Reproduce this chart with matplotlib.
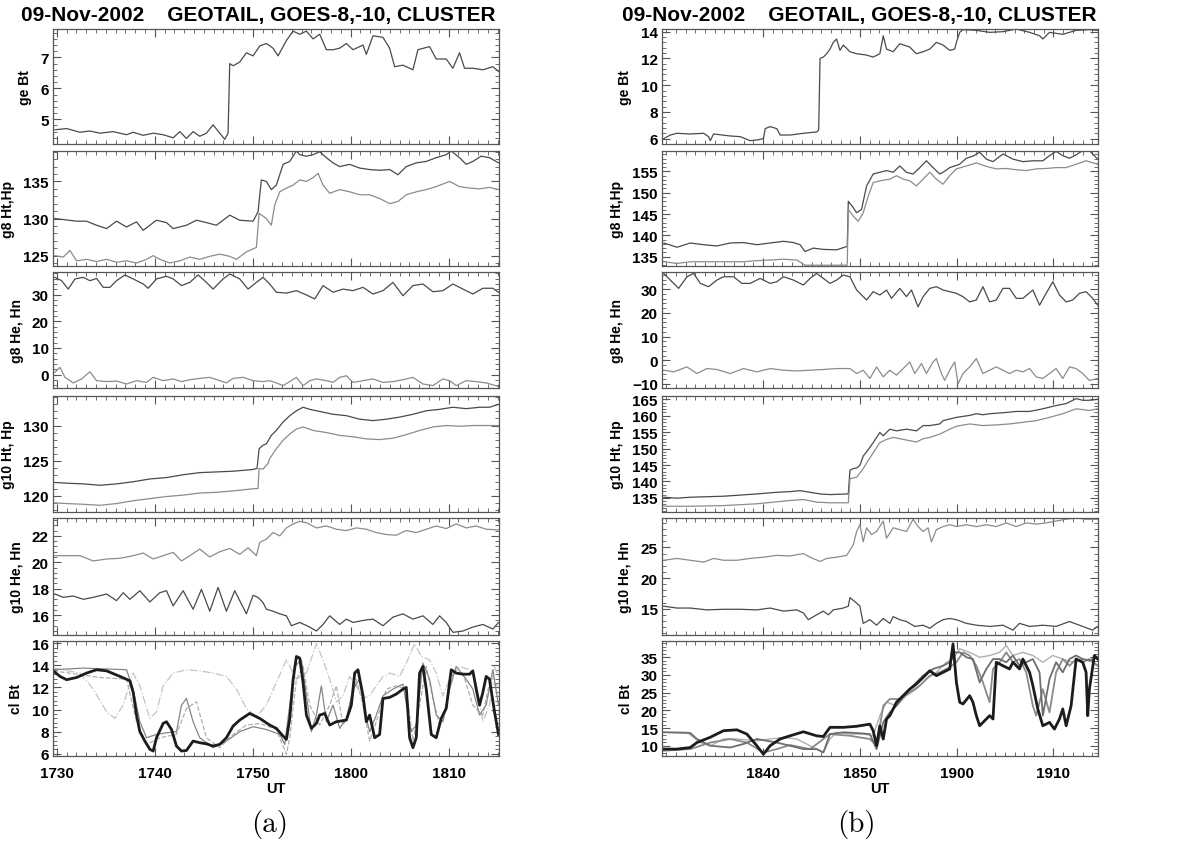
import numpy as np
import matplotlib
matplotlib.use("Agg")
import matplotlib.pyplot as plt
from matplotlib.ticker import MultipleLocator, FixedLocator, AutoMinorLocator

plt.rcParams["font.family"] = ["Liberation Sans", "DejaVu Sans"]
plt.rcParams["font.weight"] = "bold"

# ---------------------------------------------------------------------------
# data: (minutes after 17:30 UT for column a, after 18:30 UT for column b, value)
# ---------------------------------------------------------------------------

A_GE_BT = [(-0.2, 4.66), (1.0, 4.7), (2.35, 4.58), (3.37, 4.62), (4.39, 4.55), (5.75, 4.6),
           (7.11, 4.5), (7.79, 4.58), (8.81, 4.48), (9.83, 4.55), (10.85, 4.5), (11.87, 4.4),
           (12.55, 4.6), (13.23, 4.38), (13.91, 4.6), (14.59, 4.45), (15.27, 4.55), (15.95, 4.82),
           (16.63, 4.55), (17.14, 4.35), (17.48, 4.55), (17.65, 6.8), (17.99, 6.73), (18.67, 6.85),
           (19.35, 7.15), (20.03, 7.05), (20.71, 7.37), (21.39, 7.45), (22.07, 7.3), (22.59, 7.05),
           (23.44, 7.55), (24.12, 7.85), (24.8, 7.75), (25.48, 7.85), (26.16, 7.6), (26.84, 7.75),
           (27.52, 7.25), (28.2, 7.25), (28.88, 7.3), (29.56, 7.45), (30.24, 7.25), (31.26, 7.4),
           (31.6, 7.1), (32.28, 7.7), (33.3, 7.65), (33.98, 7.3), (34.49, 6.7), (35.34, 6.75),
           (36.36, 6.6), (36.87, 7.25), (38.06, 7.35), (38.74, 6.95), (39.76, 6.95), (40.44, 6.65),
           (41.12, 7.15), (41.63, 6.65), (42.48, 6.65), (43.5, 6.6), (44.52, 6.7), (45.1, 6.55)]

A_G8_HT = [(-0.2, 130.0), (2.01, 129.64), (3.03, 129.64), (4.05, 129.09), (5.07, 128.64), (6.09, 129.64),
           (7.11, 128.86), (8.13, 129.55), (8.81, 128.41), (10.17, 129.77), (11.19, 129.45), (11.87, 128.64),
           (13.23, 129.09), (14.25, 129.77), (15.27, 129.45), (16.29, 129.09), (17.65, 130.45), (18.67, 129.77),
           (20.03, 129.64), (20.54, 130.9), (20.88, 135.2), (21.39, 135.0), (21.9, 133.9), (22.41, 134.5),
           (23.1, 137.3), (23.78, 137.7), (24.46, 139.1), (24.8, 138.6), (25.48, 138.4), (26.16, 138.6),
           (26.84, 139.0), (27.52, 138.2), (28.2, 137.5), (28.88, 137.0), (29.9, 137.3), (30.92, 136.8),
           (31.94, 136.6), (32.96, 136.5), (33.98, 136.6), (34.83, 135.9), (35.68, 137.0), (36.7, 137.5),
           (37.72, 137.7), (38.74, 138.2), (39.76, 138.6), (40.27, 139.1), (41.12, 138.2), (41.8, 137.3),
           (42.48, 137.7), (43.33, 138.4), (44.18, 138.2), (45.1, 137.5)]

A_G8_HP = [(-0.2, 125.0), (0.65, 124.8), (1.33, 125.7), (2.01, 124.3), (3.03, 124.5), (4.05, 124.2),
           (5.07, 124.5), (6.09, 124.1), (7.11, 124.3), (8.13, 124.0), (9.15, 124.5), (9.83, 125.0),
           (10.51, 124.5), (11.53, 124.0), (12.55, 124.3), (13.57, 124.8), (14.59, 124.5), (15.61, 124.9),
           (16.63, 125.2), (17.65, 124.9), (18.33, 124.5), (19.35, 125.5), (20.37, 126.1), (20.65, 130.7),
           (21.39, 130.0), (21.9, 129.1), (22.24, 131.8), (22.76, 133.6), (23.44, 134.1), (24.12, 134.5),
           (24.8, 135.2), (25.48, 135.0), (26.16, 135.5), (26.67, 136.1), (27.18, 134.5), (27.86, 133.4),
           (28.88, 133.9), (29.9, 133.6), (30.92, 133.2), (31.94, 133.2), (32.96, 132.7), (33.98, 132.0),
           (34.83, 132.3), (35.68, 133.2), (36.7, 133.6), (37.72, 133.9), (38.74, 134.3), (40.1, 135.0),
           (41.12, 134.3), (42.14, 134.1), (43.16, 134.0), (44.18, 134.2), (45.1, 133.9)]

A_G8_HE = [(-0.2, 36.5), (0.48, 35.25), (1.16, 32.1), (1.84, 35.9), (2.69, 36.5), (3.37, 35.25),
           (4.05, 36.1), (4.73, 32.75), (5.41, 32.75), (6.09, 35.25), (6.94, 37.4), (7.79, 35.9),
           (8.81, 34.0), (9.32, 32.4), (10.17, 35.9), (11.19, 36.9), (11.87, 35.9), (12.72, 33.4),
           (13.57, 34.6), (14.42, 37.4), (15.27, 34.6), (15.95, 32.1), (16.97, 35.9), (17.65, 37.75),
           (18.67, 35.9), (19.52, 32.1), (20.37, 34.6), (21.05, 36.5), (21.73, 34.0), (22.41, 30.9),
           (23.44, 30.6), (24.46, 31.5), (25.48, 29.9), (26.33, 28.4), (27.18, 33.4), (28.2, 30.9),
           (29.22, 32.1), (30.24, 31.5), (31.26, 32.75), (32.28, 30.25), (33.3, 31.5), (34.32, 34.6),
           (35.34, 29.6), (36.36, 33.4), (37.38, 34.0), (38.4, 31.1), (39.42, 31.5), (40.44, 34.0),
           (41.46, 32.1), (42.48, 30.25), (43.5, 32.4), (44.52, 32.4), (45.1, 30.9)]

A_G8_HN = [(-0.2, 0.9), (0.31, 2.75), (0.82, -1.0), (1.67, -3.1), (2.52, -1.6), (3.37, 1.1),
           (4.05, -2.25), (5.07, -2.6), (6.09, -2.4), (7.11, -3.5), (8.13, -2.25), (9.15, -2.9),
           (9.83, -1.0), (10.85, -2.25), (11.87, -1.6), (12.72, -2.6), (13.57, -1.9), (14.59, -1.4),
           (15.61, -1.0), (16.63, -2.25), (17.31, -3.1), (17.99, -1.4), (19.01, -1.0), (20.03, -2.25),
           (21.05, -2.6), (21.73, -2.25), (22.41, -3.1), (23.1, -4.1), (23.78, -2.6), (24.46, -1.0),
           (25.14, -4.1), (25.82, -2.25), (26.5, -1.6), (27.52, -2.25), (28.2, -2.9), (28.88, -1.0),
           (29.56, -0.4), (30.24, -2.9), (31.26, -2.25), (32.28, -1.6), (33.3, -2.9), (34.32, -2.6),
           (35.34, -1.9), (36.36, -1.0), (37.38, -3.5), (38.4, -4.1), (39.42, -1.6), (40.1, -2.25),
           (40.78, -4.1), (41.8, -2.25), (42.82, -2.6), (43.84, -3.1), (45.1, -4.4)]

A_G10_HT = [(-0.2, 121.9), (0.99, 121.8), (2.69, 121.7), (4.39, 121.5), (6.09, 121.7), (7.79, 122.0),
            (9.49, 122.4), (11.19, 122.6), (12.89, 123.0), (14.59, 123.3), (16.29, 123.4), (17.99, 123.5),
            (20.03, 123.75), (20.44, 123.9), (20.65, 126.7), (21.05, 127.2), (21.39, 127.4), (21.9, 128.6),
            (22.41, 129.3), (23.1, 130.5), (23.78, 131.4), (24.46, 132.1), (25.14, 132.6), (25.82, 132.3),
            (26.84, 132.0), (28.2, 131.6), (29.56, 131.4), (30.92, 130.9), (32.28, 130.7), (33.64, 130.9),
            (35.0, 131.2), (36.36, 131.6), (37.72, 132.1), (39.08, 132.3), (40.44, 132.6), (41.8, 132.4),
            (43.16, 132.6), (44.18, 132.6), (45.1, 133.0)]

A_G10_HP = [(-0.2, 119.0), (0.99, 118.9), (2.69, 118.8), (4.39, 118.65), (6.09, 118.9), (7.79, 119.3),
            (9.49, 119.6), (11.19, 119.9), (12.89, 120.1), (14.59, 120.4), (16.29, 120.5), (17.99, 120.7),
            (20.03, 121.0), (20.54, 121.05), (20.65, 123.9), (21.05, 123.8), (21.56, 124.6), (21.73, 125.3),
            (22.41, 126.7), (23.1, 127.9), (23.78, 128.8), (24.46, 129.5), (25.14, 129.8), (26.16, 129.3),
            (27.52, 129.0), (28.88, 128.6), (30.24, 128.4), (31.6, 128.1), (32.96, 128.0), (34.32, 128.2),
            (35.68, 128.7), (37.04, 129.3), (38.4, 129.8), (39.76, 130.0), (41.12, 129.9), (42.48, 130.0),
            (43.84, 130.0), (45.1, 130.0)]

A_G10_HE = [(-0.2, 20.5), (2.35, 20.5), (3.71, 20.1), (5.07, 20.25), (6.43, 20.3), (7.79, 20.5),
            (8.81, 20.7), (9.83, 20.25), (10.85, 20.5), (11.87, 20.75), (12.72, 20.1), (13.57, 20.5),
            (14.59, 21.0), (15.61, 20.4), (16.63, 20.8), (17.65, 21.05), (18.67, 20.6), (19.52, 21.1),
            (20.37, 20.5), (20.71, 21.5), (21.39, 21.75), (22.07, 22.25), (22.76, 22.0), (23.44, 22.6),
            (24.12, 22.9), (24.8, 23.1), (25.48, 23.0), (26.5, 22.6), (27.52, 22.75), (28.54, 22.5),
            (29.56, 22.4), (30.58, 22.6), (31.6, 22.5), (32.62, 22.25), (33.64, 22.1), (34.66, 22.05),
            (35.68, 22.4), (36.7, 22.25), (37.72, 22.5), (38.74, 22.75), (39.76, 22.55), (40.78, 22.9),
            (41.8, 22.6), (42.82, 22.75), (43.84, 22.5), (45.1, 22.45)]

A_G10_HN = [(-0.2, 17.6), (0.65, 17.35), (1.67, 17.45), (2.69, 17.2), (3.71, 17.35), (5.07, 17.6),
            (6.09, 17.1), (6.77, 17.7), (7.45, 17.2), (8.47, 17.85), (9.49, 17.0), (10.51, 17.7),
            (11.19, 17.85), (11.87, 16.7), (12.89, 17.85), (13.91, 16.45), (14.76, 17.95), (15.61, 16.3),
            (16.46, 18.1), (17.31, 16.3), (18.16, 17.85), (19.35, 16.1), (20.03, 17.5), (20.54, 17.35),
            (21.05, 16.95), (21.39, 16.45), (22.07, 16.3), (22.76, 16.1), (23.44, 15.95), (23.95, 15.2),
            (24.8, 15.45), (25.82, 15.1), (26.5, 14.8), (27.18, 15.3), (27.86, 15.95), (28.88, 15.3),
            (29.56, 15.7), (30.24, 15.45), (31.26, 15.6), (32.28, 15.7), (33.3, 15.2), (34.32, 15.85),
            (35.34, 16.1), (36.36, 15.7), (37.38, 15.95), (38.4, 15.3), (39.08, 15.95), (39.76, 15.45),
            (40.44, 14.7), (41.46, 14.8), (42.48, 15.1), (43.5, 15.3), (44.52, 14.95), (45.1, 15.45)]

A_CL_C1 = [(-0.37, 13.5), (0.31, 13.0), (0.99, 12.7), (2.01, 12.9), (3.03, 13.3), (4.05, 13.6),
           (5.07, 13.5), (6.43, 13.0), (7.45, 12.6), (7.79, 11.55), (8.13, 9.5), (8.47, 8.0),
           (8.98, 7.15), (9.49, 6.4), (9.83, 6.25), (10.17, 7.45), (10.85, 8.75), (11.19, 8.9),
           (11.7, 8.2), (12.21, 6.7), (12.72, 6.25), (13.23, 6.3), (13.91, 7.15), (14.59, 7.0),
           (15.27, 6.9), (15.95, 6.7), (16.63, 6.85), (17.31, 7.45), (17.99, 8.5), (18.67, 9.05),
           (19.69, 9.65), (20.71, 9.2), (21.73, 8.6), (22.41, 8.3), (23.1, 7.6), (23.44, 7.3),
           (23.78, 9.2), (24.12, 12.7), (24.46, 14.8), (24.8, 14.65), (25.14, 12.45), (25.48, 9.5),
           (25.99, 8.3), (26.5, 8.75), (26.84, 9.5), (27.35, 9.65), (27.86, 8.6), (28.54, 8.9),
           (29.56, 9.05), (30.07, 10.4), (30.41, 13.3), (30.75, 13.6), (31.26, 11.25), (31.6, 8.9),
           (31.94, 9.5), (32.45, 7.45), (32.96, 7.75), (33.3, 11.0), (33.98, 11.1), (34.66, 11.4),
           (35.34, 11.85), (35.68, 12.0), (36.02, 7.45), (36.36, 6.55), (36.7, 7.45), (37.04, 13.3),
           (37.38, 13.9), (37.72, 11.85), (38.23, 7.75), (38.74, 7.45), (39.25, 9.2), (39.76, 10.1),
           (40.27, 13.6), (40.78, 13.3), (41.46, 13.2), (42.14, 13.2), (42.48, 13.5), (42.82, 11.85),
           (43.16, 10.4), (43.5, 11.55), (43.84, 13.0), (44.18, 12.75), (44.69, 9.8), (45.1, 7.75)]

A_CL_C2 = [(-0.37, 13.6), (2.69, 13.75), (7.11, 13.6), (7.79, 11.85), (8.47, 8.9), (9.15, 7.45),
           (10.17, 7.75), (11.19, 7.9), (12.21, 8.0), (12.72, 10.4), (13.23, 11.0), (13.91, 8.9),
           (14.59, 7.45), (15.95, 6.55), (17.31, 7.15), (18.67, 8.0), (20.03, 8.45), (21.39, 8.2),
           (22.76, 7.75), (23.27, 6.85), (23.78, 10.4), (24.29, 13.9), (24.97, 14.5), (25.48, 11.25),
           (25.99, 8.0), (26.5, 9.5), (27.01, 12.15), (27.52, 8.9), (28.2, 10.4), (28.88, 8.3),
           (29.56, 9.2), (30.24, 11.85), (30.92, 12.75), (31.43, 9.8), (31.94, 8.0), (32.62, 9.5),
           (33.3, 11.25), (34.32, 11.85), (35.34, 12.3), (36.19, 8.0), (36.7, 8.6), (37.38, 14.2),
           (38.06, 12.75), (38.74, 9.5), (39.42, 8.9), (40.1, 11.85), (40.78, 13.9), (41.8, 12.75),
           (42.48, 11.85), (43.16, 9.5), (43.84, 10.4), (44.52, 13.6), (45.1, 10.4)]

A_CL_C3 = [(-0.37, 13.75), (2.35, 13.3), (3.71, 11.85), (5.07, 9.8), (5.92, 9.2), (6.77, 10.4),
           (7.79, 13.3), (8.47, 12.15), (9.49, 9.2), (10.17, 9.8), (10.85, 12.15), (11.87, 13.3),
           (13.23, 13.6), (14.59, 13.5), (15.95, 13.3), (17.31, 13.0), (18.33, 11.85), (19.35, 10.1),
           (20.37, 9.35), (21.39, 10.4), (22.41, 12.45), (23.44, 14.5), (24.46, 12.75), (25.48, 13.3),
           (26.5, 15.95), (27.18, 14.5), (27.86, 12.75), (28.54, 10.7), (29.22, 11.25), (29.9, 13.0),
           (30.58, 12.15), (31.26, 11.0), (31.94, 11.25), (32.62, 12.15), (33.3, 13.0), (33.98, 13.3),
           (35.0, 13.0), (35.68, 14.2), (36.53, 15.95), (37.21, 14.8), (38.06, 14.5), (38.74, 13.3),
           (39.42, 11.25), (40.1, 12.75), (41.12, 13.9), (42.14, 13.6), (42.82, 12.45), (43.5, 8.9),
           (44.18, 10.4), (44.69, 13.9), (45.1, 13.0)]

A_CL_C4 = [(-0.37, 13.5), (4.39, 12.9), (7.11, 12.75), (8.13, 8.9), (9.15, 6.85), (10.51, 7.45),
           (12.21, 7.75), (13.23, 10.1), (14.25, 10.7), (15.27, 7.45), (16.63, 6.55), (17.99, 7.75),
           (19.35, 8.6), (20.71, 8.75), (22.41, 8.2), (23.44, 5.95), (23.78, 7.45), (24.46, 12.75),
           (25.14, 13.9), (25.82, 10.4), (26.84, 8.6), (27.86, 10.4), (28.54, 12.15), (29.22, 8.6),
           (29.9, 9.8), (30.58, 12.75), (31.26, 10.4), (31.94, 7.15), (32.62, 8.9), (33.64, 11.85),
           (34.66, 12.15), (35.68, 11.85), (36.36, 7.15), (37.04, 10.4), (37.72, 13.9), (38.4, 11.0),
           (39.08, 8.6), (39.76, 10.4), (40.44, 13.3), (41.46, 13.3), (42.48, 10.4), (43.5, 9.5),
           (44.18, 12.45), (45.1, 12.15)]

B_GE_BT = [(-0.27, 6.0), (0.41, 6.27), (1.1, 6.4), (2.47, 6.35), (3.85, 6.4), (4.36, 6.15),
           (4.54, 5.85), (4.88, 6.35), (6.6, 6.2), (7.63, 6.15), (8.66, 5.85), (9.35, 5.9),
           (10.03, 6.0), (10.21, 6.75), (10.72, 6.9), (11.41, 6.75), (11.75, 6.27), (12.78, 6.27),
           (14.16, 6.4), (15.53, 6.5), (15.74, 6.65), (15.88, 12.0), (16.22, 12.1), (16.56, 12.35),
           (16.91, 12.7), (17.25, 13.2), (17.59, 13.45), (17.94, 12.6), (18.28, 13.0), (18.97, 12.5),
           (19.66, 12.35), (20.69, 12.25), (21.37, 12.1), (22.06, 12.35), (22.41, 13.7), (22.75, 12.7),
           (23.44, 12.5), (24.12, 13.1), (25.15, 12.85), (25.84, 12.35), (26.53, 12.5), (27.22, 12.7),
           (27.9, 13.2), (28.59, 13.0), (29.28, 12.6), (29.79, 12.7), (29.97, 13.2), (30.31, 13.95),
           (30.65, 14.15), (32.03, 14.1), (33.4, 13.95), (34.78, 14.0), (36.15, 14.2), (37.53, 13.95),
           (38.56, 13.7), (38.9, 13.45), (39.59, 13.95), (40.96, 13.8), (42.34, 14.1), (43.71, 14.15),
           (44.57, 14.1)]

B_G8_HT = [(-0.27, 138.2), (1.1, 137.2), (2.47, 138.2), (3.85, 137.8), (5.22, 137.5), (6.6, 138.2),
           (7.97, 138.3), (9.35, 137.8), (10.72, 138.2), (12.1, 138.6), (13.13, 138.3), (13.81, 137.8),
           (14.33, 136.2), (15.19, 137.0), (16.22, 136.7), (17.59, 136.6), (18.69, 137.4), (18.8, 148.0),
           (19.31, 146.5), (19.66, 145.3), (20.17, 146.1), (20.69, 151.6), (21.37, 154.4), (22.06, 154.8),
           (22.75, 155.2), (23.44, 154.8), (24.12, 156.3), (24.81, 154.8), (25.5, 154.4), (26.19, 155.9),
           (26.87, 157.5), (27.56, 155.9), (28.25, 154.4), (28.59, 154.8), (29.28, 155.9), (30.31, 156.7),
           (31.0, 158.1), (31.68, 158.6), (32.37, 159.5), (33.06, 157.9), (33.75, 157.3), (34.78, 159.1),
           (35.81, 157.9), (36.84, 157.3), (37.87, 157.5), (38.9, 157.5), (39.59, 158.7), (40.27, 159.7),
           (40.96, 158.7), (41.65, 158.1), (42.34, 158.9), (43.02, 159.9), (43.71, 159.9), (44.57, 157.9)]

B_G8_HP = [(-0.27, 133.8), (1.1, 133.4), (2.47, 133.8), (5.22, 133.8), (7.97, 133.8), (9.35, 134.05),
           (10.72, 134.2), (12.1, 134.4), (13.47, 134.2), (14.33, 133.0), (16.22, 133.0), (18.69, 133.0),
           (18.8, 146.1), (19.31, 144.5), (19.83, 143.3), (20.34, 145.3), (20.86, 149.2), (21.37, 152.4),
           (22.06, 152.8), (23.09, 153.2), (23.78, 154.0), (24.47, 153.2), (25.15, 152.8), (25.84, 151.6),
           (26.53, 153.2), (27.22, 154.8), (27.9, 153.2), (28.59, 152.0), (29.28, 154.0), (29.97, 155.6),
           (31.0, 156.3), (32.03, 157.0), (33.06, 156.2), (34.09, 155.6), (35.12, 155.7), (36.15, 155.4),
           (37.18, 155.2), (38.21, 155.6), (39.24, 155.7), (40.27, 155.9), (41.31, 155.9), (42.34, 156.7),
           (43.37, 157.5), (44.57, 156.7)]

B_G8_HE = [(-0.27, 36.6), (0.41, 33.8), (1.27, 30.3), (2.13, 35.2), (2.82, 36.6), (3.51, 32.4),
           (4.36, 31.0), (5.22, 33.8), (5.91, 35.2), (6.94, 35.2), (7.8, 32.4), (8.66, 32.4),
           (9.69, 34.5), (10.72, 32.4), (11.41, 33.1), (12.1, 35.2), (13.13, 33.8), (14.16, 31.7),
           (14.85, 34.5), (15.53, 36.6), (16.22, 34.5), (16.91, 32.4), (17.59, 33.8), (18.28, 35.9),
           (18.97, 35.2), (19.66, 29.6), (20.17, 27.5), (20.69, 25.4), (21.37, 28.9), (22.06, 27.5),
           (22.75, 29.6), (23.26, 26.1), (24.12, 30.3), (24.81, 26.8), (25.33, 29.6), (26.01, 22.5),
           (26.53, 26.8), (27.22, 30.3), (27.9, 31.0), (28.59, 29.6), (29.28, 28.9), (29.97, 28.2),
           (30.65, 26.8), (31.34, 24.6), (32.03, 25.4), (32.71, 31.0), (33.4, 24.6), (34.09, 25.4),
           (34.78, 30.3), (35.46, 30.3), (36.15, 26.1), (36.84, 26.1), (37.87, 29.6), (38.56, 23.2),
           (39.24, 28.2), (39.93, 33.1), (40.62, 27.5), (41.31, 24.6), (41.99, 25.4), (42.68, 28.2),
           (43.37, 28.9), (44.05, 26.1), (44.57, 23.2)]

B_G8_HN = [(-0.27, -4.2), (0.76, -4.9), (2.13, -2.8), (3.16, -5.6), (4.19, -3.5), (5.22, -3.9),
           (6.6, -5.6), (7.97, -3.5), (9.35, -4.9), (10.72, -3.5), (12.1, -4.2), (13.47, -4.5),
           (14.85, -4.2), (16.22, -3.9), (17.59, -3.5), (18.97, -3.5), (19.66, -5.6), (20.34, -4.2),
           (21.03, -7.7), (21.72, -2.8), (22.41, -7.0), (23.09, -4.2), (23.78, -6.3), (24.47, -3.5),
           (25.15, -0.7), (25.67, -5.6), (26.36, -1.4), (26.87, -5.6), (27.56, -0.7), (27.9, 0.7),
           (28.42, -5.6), (28.76, -8.5), (29.28, -4.2), (29.79, -0.7), (30.14, -9.9), (30.65, -5.6),
           (31.34, -2.8), (32.03, 0.7), (32.71, -5.6), (33.4, -4.2), (34.09, -2.8), (34.78, -4.2),
           (35.46, -5.6), (36.15, -4.2), (36.84, -4.9), (37.53, -3.5), (38.21, -7.0), (38.9, -7.7),
           (39.59, -5.6), (40.27, -3.5), (40.96, -7.7), (41.65, -2.8), (42.34, -3.5), (43.02, -5.6),
           (43.71, -8.5), (44.57, -7.7)]

B_G10_HT = [(-0.27, 135.2), (1.1, 134.9), (2.47, 135.2), (5.91, 135.5), (9.35, 136.2), (11.41, 136.7),
            (12.78, 136.9), (13.81, 137.2), (14.85, 136.7), (15.88, 136.2), (16.91, 136.0), (18.8, 136.2),
            (18.97, 143.4), (19.31, 143.9), (19.66, 144.1), (20.0, 144.9), (20.34, 147.7), (20.86, 149.7),
            (21.37, 151.8), (22.06, 154.9), (22.41, 153.9), (23.09, 155.9), (23.78, 155.4), (24.81, 155.9),
            (25.84, 155.4), (26.53, 157.0), (27.22, 157.0), (28.25, 157.5), (28.59, 158.5), (29.28, 159.0),
            (29.97, 159.5), (31.34, 160.1), (32.03, 160.6), (32.71, 160.3), (33.4, 160.6), (34.78, 160.9),
            (36.15, 161.3), (37.53, 161.3), (38.9, 162.1), (40.27, 163.1), (41.31, 163.7), (42.34, 165.2),
            (43.02, 164.7), (43.71, 164.7), (44.57, 165.0)]

B_G10_HP = [(-0.27, 132.45), (2.47, 132.45), (5.91, 132.65), (9.35, 133.2), (12.78, 134.2), (14.16, 134.5),
            (15.53, 133.7), (16.91, 133.5), (18.8, 133.5), (18.97, 140.8), (19.66, 141.3), (20.34, 143.9),
            (20.69, 145.6), (21.37, 148.7), (22.06, 151.8), (22.75, 152.8), (23.44, 153.4), (24.47, 152.8),
            (25.84, 152.0), (26.53, 153.0), (27.22, 153.4), (28.25, 154.4), (29.28, 155.9), (29.97, 156.8),
            (31.34, 157.5), (32.71, 157.0), (34.09, 157.2), (35.46, 157.5), (36.84, 158.0), (38.21, 158.5),
            (39.59, 159.5), (40.96, 160.6), (42.34, 162.1), (43.71, 161.6), (44.57, 162.1)]

B_G10_HE = [(-0.27, 22.9), (1.1, 23.2), (2.47, 22.9), (3.85, 22.6), (4.88, 23.2), (5.91, 22.9),
            (7.29, 22.9), (8.66, 23.2), (10.03, 23.4), (11.41, 23.7), (12.78, 23.6), (14.16, 24.0),
            (14.85, 23.4), (15.88, 22.7), (16.56, 23.2), (17.59, 23.4), (18.63, 23.7), (19.31, 25.4),
            (19.66, 27.6), (20.0, 28.7), (20.34, 25.9), (20.69, 28.2), (21.2, 27.1), (21.72, 27.6),
            (22.41, 29.3), (22.75, 26.5), (23.44, 28.2), (24.12, 27.9), (24.81, 27.6), (25.5, 29.6),
            (26.01, 28.4), (26.53, 27.6), (27.04, 28.2), (27.39, 25.9), (27.9, 27.9), (28.59, 28.4),
            (29.28, 28.7), (29.97, 28.4), (31.0, 28.7), (32.03, 28.4), (33.06, 28.7), (34.09, 28.4),
            (35.12, 29.0), (36.15, 28.4), (37.18, 29.0), (38.21, 28.8), (39.24, 29.0), (40.27, 29.3),
            (41.31, 29.6), (42.34, 29.8), (43.37, 29.6), (44.57, 29.6)]

B_G10_HN = [(-0.27, 15.4), (1.1, 15.1), (2.47, 15.1), (4.19, 14.8), (5.91, 14.9), (7.63, 14.9),
            (9.35, 14.8), (10.72, 15.1), (12.1, 14.6), (13.47, 14.8), (14.16, 14.3), (14.67, 13.2),
            (15.53, 14.0), (16.22, 14.6), (16.74, 14.0), (17.25, 14.8), (18.28, 15.1), (18.8, 15.4),
            (18.97, 16.8), (19.66, 15.9), (20.0, 15.4), (20.34, 12.6), (21.03, 13.2), (21.72, 12.3),
            (22.41, 13.4), (23.09, 12.6), (23.44, 13.7), (24.12, 13.2), (24.81, 12.9), (25.67, 12.1),
            (26.53, 12.3), (27.22, 11.8), (27.9, 12.6), (28.59, 13.2), (29.28, 13.4), (29.97, 13.2),
            (31.0, 12.6), (32.03, 12.3), (33.4, 12.1), (34.78, 12.3), (35.81, 11.5), (36.49, 12.6),
            (37.53, 12.1), (38.9, 12.3), (40.27, 12.1), (41.65, 12.9), (43.02, 12.1), (44.05, 11.5),
            (44.57, 12.1)]

B_CL_C1 = [(-0.27, 9.05), (1.1, 9.05), (2.47, 9.5), (3.16, 10.9), (4.54, 12.4), (5.91, 14.25),
           (7.29, 14.5), (8.32, 13.3), (9.35, 10.0), (10.03, 7.6), (10.72, 10.0), (11.75, 11.9),
           (12.78, 12.8), (14.16, 13.95), (15.53, 12.8), (16.22, 12.6), (16.91, 15.2), (18.28, 15.2),
           (19.66, 15.5), (21.03, 16.1), (21.37, 14.25), (21.72, 10.0), (22.06, 15.65), (22.41, 11.9),
           (22.75, 17.55), (23.09, 18.5), (23.78, 22.3), (24.47, 24.15), (25.15, 26.0), (25.84, 27.45),
           (26.53, 29.3), (27.22, 31.2), (27.9, 29.8), (28.59, 30.75), (29.28, 31.7), (29.62, 38.8),
           (29.97, 27.9), (30.31, 22.3), (30.65, 21.8), (31.34, 24.15), (31.68, 22.3), (32.03, 18.5),
           (32.37, 15.65), (33.06, 17.55), (33.4, 18.5), (33.75, 17.55), (34.09, 33.6), (34.78, 32.6),
           (35.46, 31.7), (35.81, 33.6), (36.49, 31.7), (36.84, 34.5), (37.53, 30.75), (37.87, 27.0),
           (38.38, 20.4), (38.9, 15.65), (39.59, 16.6), (40.1, 14.7), (40.62, 17.55), (40.96, 20.4),
           (41.31, 15.65), (41.82, 21.3), (42.34, 34.5), (43.02, 33.6), (43.37, 30.75), (43.54, 18.5),
           (43.71, 26.0), (44.23, 35.5), (44.57, 34.5)]

B_CL_C2 = [(-0.27, 13.8), (2.47, 13.6), (3.16, 11.9), (4.54, 10.0), (6.6, 9.5), (7.97, 10.5),
           (9.35, 11.9), (11.41, 10.9), (12.78, 10.0), (14.16, 9.05), (15.53, 9.05), (16.22, 8.1),
           (16.91, 13.3), (18.28, 13.8), (19.66, 13.6), (21.03, 13.3), (21.72, 9.05), (22.41, 16.6),
           (23.09, 19.4), (23.78, 21.3), (24.81, 25.1), (25.84, 27.9), (26.53, 29.8), (27.56, 31.7),
           (28.59, 32.6), (29.28, 33.6), (29.79, 36.4), (30.31, 36.4), (31.0, 35.0), (31.68, 34.5),
           (32.37, 27.9), (33.06, 31.7), (33.75, 34.5), (34.43, 34.5), (35.12, 33.6), (35.81, 35.5),
           (36.49, 32.6), (37.18, 33.6), (37.87, 34.5), (38.56, 30.75), (38.9, 18.5), (39.59, 28.9),
           (40.27, 33.6), (40.96, 30.75), (41.65, 34.5), (42.34, 35.5), (43.02, 34.5), (43.71, 34.1),
           (44.57, 35.0)]

B_CL_C3 = [(-0.27, 8.6), (2.47, 9.05), (4.54, 10.9), (6.6, 11.9), (8.32, 10.9), (10.03, 8.1),
           (11.41, 9.05), (12.78, 10.2), (14.85, 9.05), (16.22, 11.9), (16.91, 13.3), (18.97, 12.8),
           (21.03, 11.9), (21.72, 10.0), (22.41, 21.3), (23.09, 23.2), (24.12, 23.2), (25.15, 25.1),
           (26.19, 27.0), (27.22, 29.8), (28.25, 30.75), (29.28, 32.2), (29.97, 33.6), (30.65, 36.4),
           (31.34, 35.5), (32.03, 32.6), (32.71, 27.9), (33.4, 22.3), (33.75, 31.7), (34.43, 33.6),
           (35.12, 36.4), (35.81, 33.6), (36.49, 34.5), (37.18, 30.75), (37.87, 21.3), (38.21, 18.5),
           (38.9, 26.0), (39.59, 19.4), (40.27, 30.75), (40.96, 34.5), (41.65, 32.6), (42.34, 34.5),
           (43.02, 33.6), (43.71, 34.5), (44.57, 32.6)]

B_CL_C4 = [(-0.27, 13.8), (2.13, 13.8), (3.51, 10.9), (4.54, 10.0), (5.91, 11.9), (7.29, 11.9),
           (9.35, 11.4), (10.72, 11.9), (12.1, 12.35), (13.47, 11.9), (14.85, 10.0), (16.22, 8.1),
           (16.91, 11.9), (17.59, 13.8), (18.97, 13.3), (20.34, 13.3), (21.37, 12.8), (22.06, 18.5),
           (22.75, 22.3), (23.78, 21.3), (24.81, 24.15), (25.84, 26.0), (26.87, 28.9), (27.9, 30.75),
           (28.94, 33.6), (29.62, 34.5), (30.31, 37.4), (31.34, 36.4), (32.37, 35.0), (33.4, 35.5),
           (34.43, 36.4), (35.12, 38.3), (35.81, 35.5), (36.84, 36.4), (37.87, 35.5), (38.9, 33.6),
           (39.93, 35.5), (40.96, 34.5), (41.99, 33.6), (43.02, 34.5), (44.05, 33.6), (44.57, 32.6)]

# axis labels and ranges
PANEL_LABELS = ["ge Bt", "g8 Ht,Hp", "g8 He, Hn", "g10 Ht, Hp", "g10 He, Hn", "cl Bt"]
A_YLIMS = [(4.2, 7.92), (123.6, 139.1), (-5.0, 38.5), (117.7, 134.2), (14.5, 23.35), (5.8, 16.2)]
A_YMAJOR = [1, 5, 10, 5, 2, 2]
B_YLIMS = [(5.6, 14.2), (132.8, 159.8), (-11.7, 37.2), (130.7, 166.0), (10.7, 29.8), (7.1, 39.6)]
B_YMAJOR = [2, 5, 10, 5, 5, 5]
A_XTICKS = [0, 10, 20, 30, 40]
A_XLABELS = ["1730", "1740", "1750", "1800", "1810"]
B_XTICKS = [10, 20, 30, 40]
B_XLABELS = ["1840", "1850", "1900", "1910"]
TITLE = "09-Nov-2002    GEOTAIL, GOES-8,-10, CLUSTER"

DARK = "#4a4a4a"
LIGHT = "#8c8c8c"

A_SERIES = [
    [(A_GE_BT, DARK, 0.9, "-")],
    [(A_G8_HT, DARK, 0.9, "-"), (A_G8_HP, LIGHT, 0.9, "-")],
    [(A_G8_HE, DARK, 0.9, "-"), (A_G8_HN, LIGHT, 0.9, "-")],
    [(A_G10_HT, DARK, 0.9, "-"), (A_G10_HP, LIGHT, 0.9, "-")],
    [(A_G10_HE, LIGHT, 0.9, "-"), (A_G10_HN, DARK, 0.9, "-")],
    [(A_CL_C3, "#c4c4c4", 0.9, "-."), (A_CL_C4, "#b0b0b0", 0.9, "--"),
     (A_CL_C2, "#858585", 0.9, "-"), (A_CL_C1, "#1c1c1c", 2.0, "-")],
]
B_SERIES = [
    [(B_GE_BT, DARK, 0.9, "-")],
    [(B_G8_HT, DARK, 0.9, "-"), (B_G8_HP, LIGHT, 0.9, "-")],
    [(B_G8_HE, DARK, 0.9, "-"), (B_G8_HN, LIGHT, 0.9, "-")],
    [(B_G10_HT, DARK, 0.9, "-"), (B_G10_HP, LIGHT, 0.9, "-")],
    [(B_G10_HE, LIGHT, 0.9, "-"), (B_G10_HN, DARK, 0.9, "-")],
    [(B_CL_C4, "#b0b0b0", 1.0, "-"), (B_CL_C3, "#8a8a8a", 1.3, "-"),
     (B_CL_C2, "#6e6e6e", 1.3, "-"), (B_CL_C1, "#1c1c1c", 2.0, "-")],
]

W, H = 1180, 853
ROWS = [(30, 145), (152, 267), (273, 389), (397, 513), (519, 636), (642, 757)]


def draw_column(fig, x0, x1, xlim, ylims, ymajor, series, xticks, xlabels):
    axes = []
    for i, (top, bot) in enumerate(ROWS):
        ax = fig.add_axes([x0 / W, 1 - bot / H, (x1 - x0) / W, (bot - top) / H])
        for data, color, lw, ls in series[i]:
            t, v = np.array(data).T
            ax.plot(t, v, color=color, lw=lw, ls=ls)
        ax.set_xlim(*xlim)
        ax.set_ylim(*ylims[i])
        ax.yaxis.set_major_locator(MultipleLocator(ymajor[i]))
        ax.yaxis.set_minor_locator(AutoMinorLocator(5))
        ax.xaxis.set_major_locator(FixedLocator(xticks))
        ax.xaxis.set_minor_locator(MultipleLocator(1))
        ax.tick_params(which="both", direction="in", top=True, right=True,
                       color="#555555", labelsize=11, pad=3)
        ax.tick_params(which="major", length=6, width=0.8)
        ax.tick_params(which="minor", length=3, width=0.6)
        for s in ax.spines.values():
            s.set_color("#555555")
            s.set_linewidth(0.9)
        for lab in ax.get_yticklabels():
            lab.set_fontweight("bold")
        ax.set_ylabel(PANEL_LABELS[i], fontsize=10, fontweight="bold", labelpad=6)
        if i < len(ROWS) - 1:
            ax.set_xticklabels([])
        else:
            ax.set_xticklabels(xlabels, fontsize=11, fontweight="bold")
            ax.tick_params(axis="x", pad=7)
            ax.set_xlabel("UT", fontsize=10.5, fontweight="bold", labelpad=1)
        axes.append(ax)
    return axes


fig = plt.figure(figsize=(W / 100, H / 100), dpi=100)

draw_column(fig, 53, 499, (-0.4, 45.15), A_YLIMS, A_YMAJOR, A_SERIES, A_XTICKS, A_XLABELS)
draw_column(fig, 662, 1098, (-0.45, 44.6), B_YLIMS, B_YMAJOR, B_SERIES, B_XTICKS, B_XLABELS)

fig.text(258 / W, 1 - 15 / H, TITLE, ha="center", va="center", fontsize=15, fontweight="bold")
fig.text(859 / W, 1 - 15 / H, TITLE, ha="center", va="center", fontsize=15, fontweight="bold")
fig.text(270 / W, 1 - 825 / H, "(a)", ha="center", va="center", fontsize=21,
         family=["cmr10", "DejaVu Serif"], fontweight="normal")
fig.text(856 / W, 1 - 825 / H, "(b)", ha="center", va="center", fontsize=21,
         family=["cmr10", "DejaVu Serif"], fontweight="normal")

fig.savefig("out.png", dpi=100)
